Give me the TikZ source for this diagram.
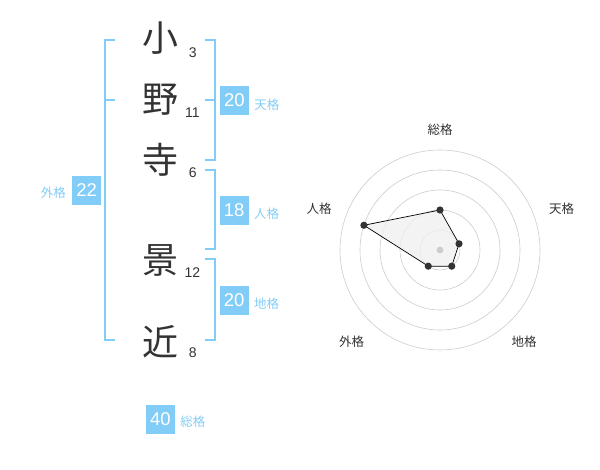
\documentclass[tikz,border=0pt]{standalone}
\usepackage{fontspec}
\setmainfont{Liberation Sans}
\newfontfamily\jpfont{Noto Sans CJK JP}
\definecolor{kakublue}{RGB}{130, 204, 248}
\definecolor{inkgray}{RGB}{51, 51, 51}
\definecolor{ringgray}{RGB}{204, 204, 204}
\usetikzlibrary{positioning}

\tikzset{
  kanji/.style={font=\jpfont\fontsize{36}{36}\selectfont, text=inkgray, inner sep=0pt},
  strokes/.style={font=\fontsize{14}{14}\selectfont, text=inkgray, inner sep=0pt},
  kakubox/.style={fill=kakublue, text=white, minimum size=29pt, inner sep=0pt, font=\fontsize{18.5}{18.5}\selectfont},
  kakulabel/.style={font=\jpfont\fontsize{12.5}{12.5}\selectfont, text=kakublue, inner sep=0pt},
  bracket/.style={draw=kakublue, line width=1.8pt},
  ring/.style={draw=ringgray, line width=0.6pt},
  axislabel/.style={font=\jpfont\fontsize{12.5}{12.5}\selectfont, text=inkgray, inner sep=0pt},
}

\begin{document}
\begin{tikzpicture}[x=1pt, y=-1pt]
  \useasboundingbox (0,0) rectangle (600,470);

  % Name characters
  \node[kanji] (c1) at (160,38) {小};
  \node[kanji] (c2) at (160,100) {野};
  \node[kanji] (c3) at (160,160) {寺};
  \node[kanji] (c4) at (160,260) {景};
  \node[kanji] (c5) at (160,342) {近};

  % Stroke counts
  \node[strokes] (s1) at (192.7,52.3) {3};
  \node[strokes] (s2) at (192.3,112.7) {11};
  \node[strokes] (s3) at (192.7,172.7) {6};
  \node[strokes] (s4) at (192.3,272.3) {12};
  \node[strokes] (s5) at (192.7,352.7) {8};

  % Brackets
  \draw[bracket] (115,40) -- (105,40) -- (105,340) -- (115,340);
  \draw[bracket] (105,100) -- (115,100);
  \draw[bracket] (205,40) -- (215,40) -- (215,160) -- (205,160);
  \draw[bracket] (215,100) -- (205,100);
  \draw[bracket] (205,170) -- (215,170) -- (215,249) -- (205,249);
  \draw[bracket] (205,259) -- (215,259) -- (215,340) -- (205,340);

  % Scores
  \node[kakubox] (ten) at (234.5,100.3) {20};
  \node[kakulabel, right=5pt of ten, yshift=-4pt] (tenl) {天格};
  \node[kakubox] (jin) at (234.2,210.2) {18};
  \node[kakulabel, right=5pt of jin, yshift=-4pt] (jinl) {人格};
  \node[kakubox] (chi) at (234.2,300.2) {20};
  \node[kakulabel, right=5pt of chi, yshift=-4pt] (chil) {地格};
  \node[kakubox] (gai) at (86.7,190.2) {22};
  \node[kakulabel, left=6pt of gai, yshift=-3pt] (gail) {外格};
  \node[kakubox] (sou) at (160.5,419.2) {40};
  \node[kakulabel, right=5pt of sou, yshift=-3pt] (soul) {総格};

  % Radar chart
  \begin{scope}[shift={(440,250)}, y=1pt]
    \foreach \rad in {20,40,...,100}
      \draw[ring] (0,0) circle[radius=\rad];
    \coordinate (psou) at (90:40);
    \coordinate (pten) at (18:20);
    \coordinate (pchi) at (-54:20);
    \coordinate (pgai) at (-126:20);
    \coordinate (pjin) at (162:80);
    \filldraw[fill=black!6, fill opacity=0.8, draw=black, line width=0.7pt]
      (psou) -- (pten) -- (pchi) -- (pgai) -- (pjin) -- cycle;
    \fill[ringgray] (0,0) circle[radius=3.4];
    \foreach \p in {psou,pten,pchi,pgai,pjin}
      \fill[inkgray] (\p) circle[radius=3.6];
  \end{scope}

  % Axis labels
  \node[axislabel] (asou) at (440,130) {総格};
  \node[axislabel] (aten) at (561.7,208.3) {天格};
  \node[axislabel] (ajin) at (319,208.3) {人格};
  \node[axislabel] (agai) at (351.7,341.7) {外格};
  \node[axislabel] (achi) at (524,341.7) {地格};
\end{tikzpicture}
\end{document}
